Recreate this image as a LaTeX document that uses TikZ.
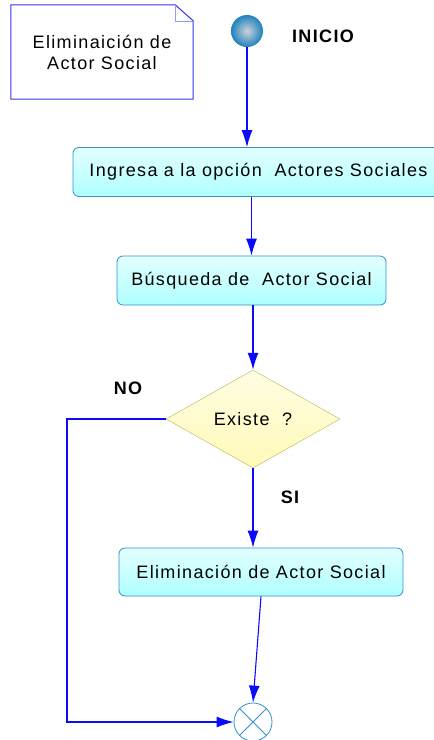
\documentclass[tikz,border=0pt]{standalone}
\usepackage{fontspec}
\setmainfont{Liberation Sans}[LetterSpace=7.5]
\usetikzlibrary{positioning,shapes.geometric,arrows.meta}
\definecolor{linkblue}{RGB}{10,10,255}
\definecolor{boxedge}{RGB}{50,145,205}
\definecolor{boxfill}{RGB}{175,255,255}
\definecolor{decedge}{RGB}{185,180,80}
\definecolor{decfill}{RGB}{255,250,185}
\definecolor{noteedge}{RGB}{50,50,235}
\definecolor{ballout}{RGB}{30,130,190}
\definecolor{ballin}{RGB}{205,210,215}

\begin{document}
\begin{tikzpicture}[x=1pt,y=-1pt,
font=\fontsize{18}{21}\selectfont,
act/.style={draw=boxedge,line width=0.8pt,rounded corners=6pt,top color=boxfill!35,bottom color=boxfill,minimum height=49pt,inner sep=0pt},
decision/.style={diamond,draw=decedge,top color=decfill!40,bottom color=decfill,minimum width=174pt,minimum height=98pt,inner sep=0pt},
flow/.style={draw=linkblue,line width=1.1pt,-{Latex[length=17pt,width=11pt]}},
tag/.style={font=\fontsize{18}{21}\selectfont\bfseries}]
\useasboundingbox (0,0) rectangle (434,740);
\clip (0,0) rectangle (434,740);
% nota
\node (note) [minimum width=182pt,minimum height=94pt,align=center] at (102,52) {Eliminaición de\\Actor Social};
\draw[noteedge,line width=1pt] (note.south west) -- (note.north west) -- ([xshift=-18pt]note.north east)
  -- ([yshift=-16pt]note.north east) -- (note.south east) -- cycle;
\draw[noteedge!50] ([xshift=-18pt]note.north east) -- ++(0,16) -- ([yshift=-16pt]note.north east);
% inicio
\node (start) [circle,minimum size=32pt,inner sep=0pt,inner color=ballin,outer color=ballout] at (247,31) {};
\node (inicio) at (323,36) [tag] {INICIO};
% actividades
\node (ingresa) [act,minimum width=371pt] at (258.5,172) {Ingresa a la opción~~Actores Sociales};
\node (busqueda) [act,minimum width=269pt] at (251.5,280.5) {Búsqueda de~~Actor Social};
\node (existe) [decision] at (253,419) {Existe~~?};
\node (no) [tag] at (128,388) {NO};
\node (si) [tag] at (290,497) {SI};
\node (elimina) [act,minimum width=284pt,minimum height=48pt] at (261,572) {Eliminación de Actor Social};
\node (fin) [circle,draw=boxedge,line width=0.8pt,minimum size=38pt,inner sep=0pt] at (253,722) {};
\draw[boxedge,line width=0.8pt] (fin.north west) -- (fin.south east) (fin.north east) -- (fin.south west);
\coordinate (vuelta) at (67,722);
% conectores
\draw[flow] (start.south) -- (start.south |- ingresa.north);
\draw[flow] (busqueda.north |- ingresa.south) -- (busqueda.north);
\draw[flow] (existe.north |- busqueda.south) -- (existe.north);
\draw[flow] (existe.south) -- (existe.south |- elimina.north);
\draw[flow] (elimina.south) -- (fin.north);
\draw[flow] (existe.west) -- (existe.west -| vuelta) -- (vuelta) -- (fin.west);
\end{tikzpicture}
\end{document}
